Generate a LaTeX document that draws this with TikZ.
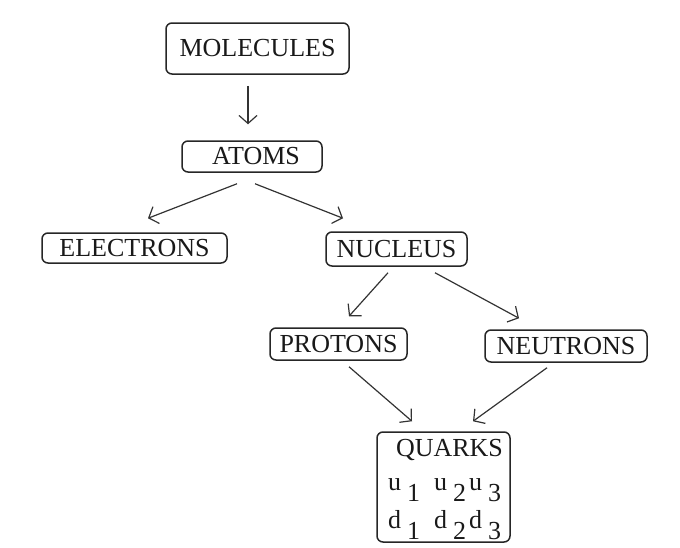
\documentclass[tikz,border=0pt]{standalone}
\usepackage{fontspec}
\setmainfont{Liberation Serif}
\usetikzlibrary{arrows.meta,calc}
\newcommand{\lowsub}[1]{\hspace{6pt}\raisebox{-0.4em}{#1}}
\begin{document}
\begin{tikzpicture}[x=1pt,y=-1pt,
  box/.style={draw=black!85, line width=1.5pt, rounded corners=6pt, inner sep=0pt,
    font=\fontsize{26}{34}\selectfont, text=black!90},
  arr/.style={draw=black!80, line width=1.2pt, -{Straight Barb[length=8pt,width=18pt,line width=1.2pt]}}]
\useasboundingbox (0,0) rectangle (680,547);
\node[box, minimum width=183, minimum height=51] (mol) at (257.5,48.5) {MOLECULES};
\node[box, minimum width=140, minimum height=31] (atoms) at (252,156.5) {\hspace*{8pt}ATOMS};
\node[box, minimum width=185, minimum height=30] (elec) at (134.5,248) {ELECTRONS};
\node[box, minimum width=141, minimum height=34] (nuc) at (396.5,249) {NUCLEUS};
\node[box, minimum width=137, minimum height=32] (prot) at (338.5,344) {PROTONS};
\node[box, minimum width=162, minimum height=32] (neut) at (566,346) {NEUTRONS};
\node[box, minimum width=133, minimum height=110, align=left] (quarks) at (443.5,487)
  {\rule{0pt}{22pt}\hspace*{12pt}QUARKS\\[0pt]
   \hspace*{4pt}u\lowsub{1}\hspace{14pt}u\lowsub{2}\hspace{3pt}u\lowsub{3}\\[4pt]
   \hspace*{4pt}d\lowsub{1}\hspace{14pt}d\lowsub{2}\hspace{3pt}d\lowsub{3}};
\draw[arr] ($(mol.south)+(-9.5,11)$) -- ($(atoms.north)+(-4,-16)$);
\draw[arr] ($(atoms.south)+(-15,11)$) -- ($(elec.north)+(13.5,-14)$);
\draw[arr] ($(atoms.south)+(3,11)$) -- ($(nuc.north)+(-53.5,-13)$);
\draw[arr] ($(nuc.south)+(-8.5,6)$) -- ($(prot.north)+(10.5,-11)$);
\draw[arr] ($(nuc.south)+(38.5,6)$) -- ($(neut.north)+(-47,-11)$);
\draw[arr] ($(prot.south)+(10.5,6)$) -- ($(quarks.north)+(-31.5,-10)$);
\draw[arr] ($(neut.south)+(-19,5)$) -- ($(quarks.north)+(29.5,-10)$);
\end{tikzpicture}
\end{document}
